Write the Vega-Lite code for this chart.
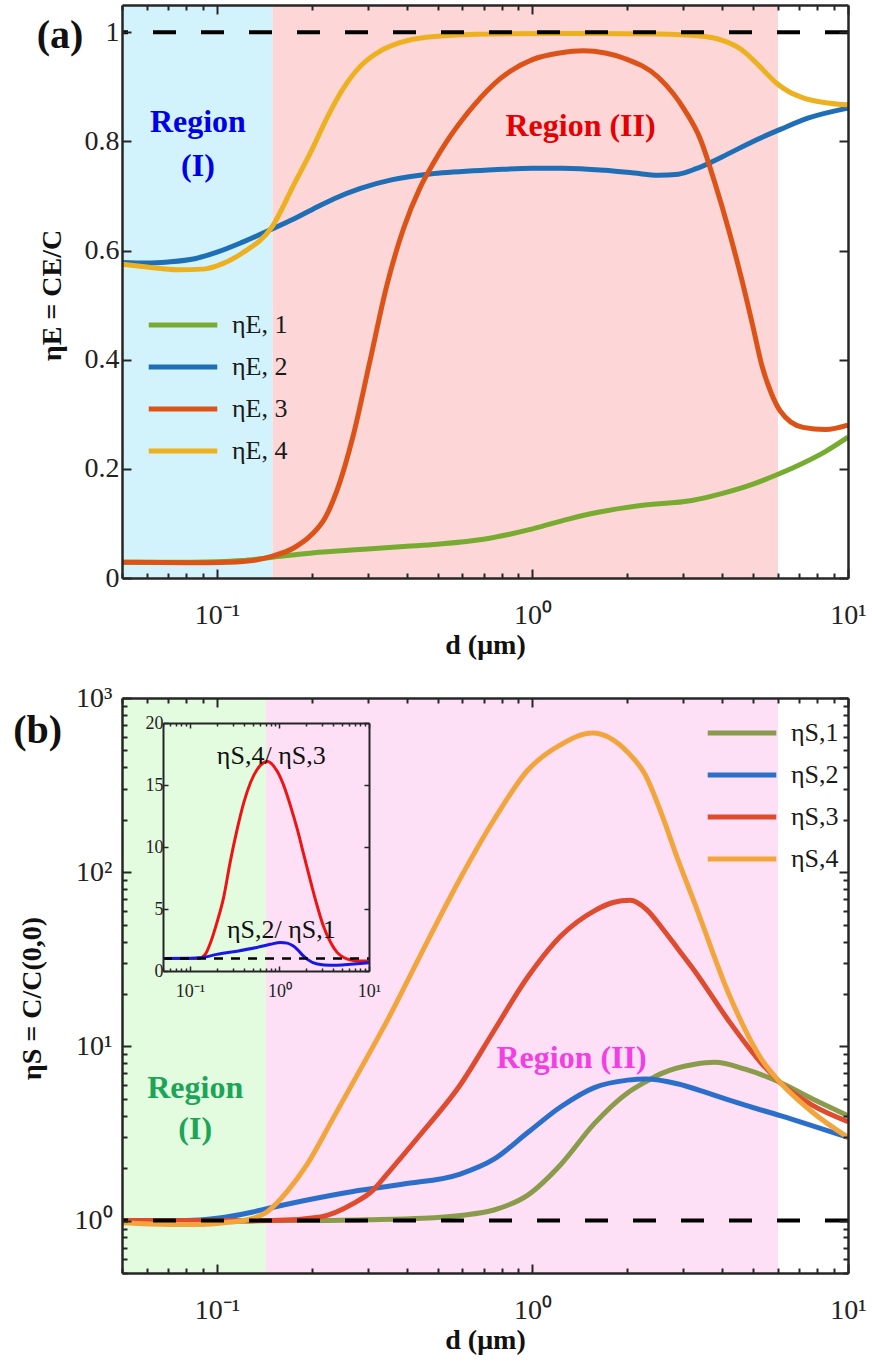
{
  "$schema": "https://vega.github.io/schema/vega-lite/v6.json",
  "autosize": {"type": "none"},
  "padding": {"left": 122, "top": 5, "right": 750, "bottom": 1357},
  "background": "white",
  "spacing": 120,
  "bounds": "flush",
  "config": {
    "view": {"stroke": null},
    "axis": {"grid": false, "labelFont": "Liberation Serif", "titleFont": "Liberation Serif", "labelColor": "#222222", "titleColor": "#111111", "domainColor": "#262626", "domainWidth": 2.5, "tickColor": "#262626", "tickWidth": 2, "zindex": 1, "labelOverlap": false, "labelFlush": false},
    "legend": {"labelFont": "Liberation Serif", "labelFontSize": 26, "labelColor": "#1a1a1a", "symbolType": "stroke", "symbolSize": 4700, "symbolStrokeWidth": 5, "clipHeight": 24, "rowPadding": 16, "labelOffset": 12, "padding": 0, "title": null},
    "text": {"font": "Liberation Serif"}
  },
  "vconcat": [
    {
      "width": 726,
      "height": 573,
      "layer": [
        {
          "data": {"values": [{"from": 0.05, "to": 0.15, "region": "I"}, {"from": 0.15, "to": 6, "region": "II"}]},
          "mark": {"type": "rect"},
          "encoding": {
            "x": {"field": "from", "type": "quantitative", "scale": {"type": "log", "domain": [0.05, 10]},
              "axis": {"orient": "bottom", "zindex": 1, "values": [0.1, 1, 10],
                "labelExpr": "datum.value == 0.1 ? '10⁻¹' : datum.value == 1 ? '10⁰' : '10¹'",
                "tickSize": -9, "labelFontSize": 28, "labelPadding": 32, "title": "d (μm)", "titleFontSize": 28, "titleFontWeight": "bold", "titleY": 67, "titleBaseline": "middle"}},
            "x2": {"field": "to"},
            "color": {"field": "region", "type": "nominal", "scale": {"domain": ["I", "II"], "range": ["#d3f3fc", "#fdd6d8"]}, "legend": null}
          }
        },
        {
          "data": {"values": [
            {"d":0.05,"eta":0.029,"series":"ηE, 1"},{"d":0.07,"eta":0.029,"series":"ηE, 1"},{"d":0.1,"eta":0.03,"series":"ηE, 1"},{"d":0.12,"eta":0.032,"series":"ηE, 1"},{"d":0.15,"eta":0.038,"series":"ηE, 1"},{"d":0.2,"eta":0.046,"series":"ηE, 1"},{"d":0.3,"eta":0.053,"series":"ηE, 1"},{"d":0.4,"eta":0.058,"series":"ηE, 1"},{"d":0.5,"eta":0.062,"series":"ηE, 1"},{"d":0.7,"eta":0.071,"series":"ηE, 1"},{"d":1.0,"eta":0.09,"series":"ηE, 1"},{"d":1.3,"eta":0.108,"series":"ηE, 1"},{"d":1.6,"eta":0.12,"series":"ηE, 1"},{"d":2.2,"eta":0.133,"series":"ηE, 1"},{"d":3.2,"eta":0.142,"series":"ηE, 1"},{"d":4.0,"eta":0.155,"series":"ηE, 1"},{"d":5.0,"eta":0.172,"series":"ηE, 1"},{"d":6.0,"eta":0.19,"series":"ηE, 1"},{"d":7.0,"eta":0.207,"series":"ηE, 1"},{"d":8.5,"eta":0.232,"series":"ηE, 1"},{"d":10,"eta":0.258,"series":"ηE, 1"},
            {"d":0.05,"eta":0.578,"series":"ηE, 2"},{"d":0.06,"eta":0.577,"series":"ηE, 2"},{"d":0.07,"eta":0.579,"series":"ηE, 2"},{"d":0.085,"eta":0.585,"series":"ηE, 2"},{"d":0.1,"eta":0.597,"series":"ηE, 2"},{"d":0.12,"eta":0.615,"series":"ηE, 2"},{"d":0.15,"eta":0.64,"series":"ηE, 2"},{"d":0.175,"eta":0.658,"series":"ηE, 2"},{"d":0.2,"eta":0.675,"series":"ηE, 2"},{"d":0.235,"eta":0.695,"series":"ηE, 2"},{"d":0.285,"eta":0.714,"series":"ηE, 2"},{"d":0.36,"eta":0.73,"series":"ηE, 2"},{"d":0.485,"eta":0.741,"series":"ηE, 2"},{"d":0.75,"eta":0.748,"series":"ηE, 2"},{"d":1.0,"eta":0.751,"series":"ηE, 2"},{"d":1.25,"eta":0.751,"series":"ηE, 2"},{"d":1.7,"eta":0.747,"series":"ηE, 2"},{"d":2.1,"eta":0.742,"series":"ηE, 2"},{"d":2.5,"eta":0.738,"series":"ηE, 2"},{"d":2.9,"eta":0.74,"series":"ηE, 2"},{"d":3.3,"eta":0.75,"series":"ηE, 2"},{"d":4.0,"eta":0.772,"series":"ηE, 2"},{"d":5.0,"eta":0.8,"series":"ηE, 2"},{"d":6.1,"eta":0.822,"series":"ηE, 2"},{"d":7.5,"eta":0.843,"series":"ηE, 2"},{"d":10,"eta":0.861,"series":"ηE, 2"},
            {"d":0.05,"eta":0.029,"series":"ηE, 3"},{"d":0.08,"eta":0.028,"series":"ηE, 3"},{"d":0.11,"eta":0.029,"series":"ηE, 3"},{"d":0.13,"eta":0.032,"series":"ηE, 3"},{"d":0.15,"eta":0.04,"series":"ηE, 3"},{"d":0.175,"eta":0.055,"series":"ηE, 3"},{"d":0.2,"eta":0.08,"series":"ηE, 3"},{"d":0.22,"eta":0.11,"series":"ηE, 3"},{"d":0.24,"eta":0.16,"series":"ηE, 3"},{"d":0.27,"eta":0.26,"series":"ηE, 3"},{"d":0.306,"eta":0.4,"series":"ηE, 3"},{"d":0.345,"eta":0.535,"series":"ηE, 3"},{"d":0.39,"eta":0.64,"series":"ηE, 3"},{"d":0.44,"eta":0.715,"series":"ηE, 3"},{"d":0.485,"eta":0.76,"series":"ηE, 3"},{"d":0.535,"eta":0.8,"series":"ηE, 3"},{"d":0.6,"eta":0.84,"series":"ηE, 3"},{"d":0.65,"eta":0.865,"series":"ηE, 3"},{"d":0.79,"eta":0.915,"series":"ηE, 3"},{"d":1.0,"eta":0.95,"series":"ηE, 3"},{"d":1.22,"eta":0.962,"series":"ηE, 3"},{"d":1.45,"eta":0.966,"series":"ηE, 3"},{"d":1.7,"eta":0.962,"series":"ηE, 3"},{"d":1.96,"eta":0.952,"series":"ηE, 3"},{"d":2.5,"eta":0.918,"series":"ηE, 3"},{"d":3.04,"eta":0.857,"series":"ηE, 3"},{"d":3.4,"eta":0.805,"series":"ηE, 3"},{"d":3.78,"eta":0.725,"series":"ηE, 3"},{"d":4.2,"eta":0.635,"series":"ηE, 3"},{"d":4.6,"eta":0.548,"series":"ηE, 3"},{"d":5.0,"eta":0.46,"series":"ηE, 3"},{"d":5.33,"eta":0.39,"series":"ηE, 3"},{"d":5.7,"eta":0.34,"series":"ηE, 3"},{"d":6.1,"eta":0.306,"series":"ηE, 3"},{"d":7.2,"eta":0.276,"series":"ηE, 3"},{"d":8.5,"eta":0.272,"series":"ηE, 3"},{"d":10,"eta":0.28,"series":"ηE, 3"},
            {"d":0.05,"eta":0.575,"series":"ηE, 4"},{"d":0.06,"eta":0.57,"series":"ηE, 4"},{"d":0.075,"eta":0.565,"series":"ηE, 4"},{"d":0.09,"eta":0.566,"series":"ηE, 4"},{"d":0.1,"eta":0.572,"series":"ηE, 4"},{"d":0.12,"eta":0.595,"series":"ηE, 4"},{"d":0.15,"eta":0.645,"series":"ηE, 4"},{"d":0.175,"eta":0.72,"series":"ηE, 4"},{"d":0.2,"eta":0.785,"series":"ηE, 4"},{"d":0.224,"eta":0.845,"series":"ηE, 4"},{"d":0.25,"eta":0.895,"series":"ηE, 4"},{"d":0.285,"eta":0.938,"series":"ηE, 4"},{"d":0.33,"eta":0.966,"series":"ηE, 4"},{"d":0.38,"eta":0.981,"series":"ηE, 4"},{"d":0.46,"eta":0.991,"series":"ηE, 4"},{"d":0.75,"eta":0.997,"series":"ηE, 4"},{"d":1.5,"eta":0.998,"series":"ηE, 4"},{"d":2.5,"eta":0.997,"series":"ηE, 4"},{"d":3.4,"eta":0.993,"series":"ηE, 4"},{"d":4.0,"eta":0.985,"series":"ηE, 4"},{"d":4.6,"eta":0.968,"series":"ηE, 4"},{"d":5.3,"eta":0.935,"series":"ηE, 4"},{"d":5.9,"eta":0.908,"series":"ηE, 4"},{"d":6.5,"eta":0.891,"series":"ηE, 4"},{"d":7.2,"eta":0.88,"series":"ηE, 4"},{"d":8.5,"eta":0.871,"series":"ηE, 4"},{"d":10,"eta":0.867,"series":"ηE, 4"}
          ]},
          "mark": {"type": "line", "strokeWidth": 5, "interpolate": "monotone"},
          "encoding": {
            "x": {"field": "d", "type": "quantitative", "scale": {"type": "log", "domain": [0.05, 10]},
              "axis": {"orient": "top", "zindex": 1, "values": [0.1, 1, 10], "labels": false, "tickSize": -9, "title": null}},
            "y": {"field": "eta", "type": "quantitative", "scale": {"domain": [0, 1.05]},
              "axis": {"orient": "left", "zindex": 1, "values": [0, 0.2, 0.4, 0.6, 0.8, 1], "format": ".1~f", "tickSize": -9, "labelFontSize": 28, "labelPadding": 12,
                "title": "ηE = CE/C", "titleFontSize": 28, "titleFontWeight": "bold", "titleX": -62, "titleY": 290, "titleBaseline": "alphabetic"}},
            "color": {"field": "series", "type": "nominal", "scale": {"domain": ["ηE, 1", "ηE, 2", "ηE, 3", "ηE, 4"], "range": ["#77ac30", "#1f6fb6", "#dc5318", "#edb120"]},
              "legend": {"orient": "none", "legendX": 24, "legendY": 308}}
          }
        },
        {
          "data": {"values": [{"ref": 1}]},
          "mark": {"type": "rule", "strokeDash": [23, 25], "strokeWidth": 4, "color": "#000000"},
          "encoding": {
            "y": {"field": "ref", "type": "quantitative", "scale": {"domain": [0, 1.05]},
              "axis": {"orient": "right", "zindex": 1, "values": [0, 0.2, 0.4, 0.6, 0.8, 1], "labels": false, "tickSize": -9, "title": null}}
          }
        },
        {
          "data": {"values": [{"d": 0.087, "eta": 0.835, "label": "Region\n(I)"}]},
          "mark": {"type": "text", "fontSize": 32, "fontWeight": "bold", "color": "#0000e6", "lineHeight": 44, "lineBreak": "\n", "baseline": "middle"},
          "encoding": {
            "x": {"field": "d", "type": "quantitative", "scale": {"type": "log", "domain": [0.05, 10]},
              "axis": {"orient": "bottom", "zindex": 1, "values": [0.05,0.06,0.07,0.08,0.09,0.2,0.3,0.4,0.5,0.6,0.7,0.8,0.9,2,3,4,5,6,7,8,9], "labels": false, "domain": false, "tickSize": -5, "title": null}},
            "y": {"field": "eta", "type": "quantitative", "scale": {"domain": [0, 1.05]}, "axis": null},
            "text": {"field": "label"}
          }
        },
        {
          "data": {"values": [{"d": 1.42, "eta": 0.828, "label": "Region (II)"}]},
          "mark": {"type": "text", "fontSize": 32, "fontWeight": "bold", "color": "#e60000", "baseline": "middle"},
          "encoding": {
            "x": {"field": "d", "type": "quantitative", "scale": {"type": "log", "domain": [0.05, 10]},
              "axis": {"orient": "top", "zindex": 1, "values": [0.05,0.06,0.07,0.08,0.09,0.2,0.3,0.4,0.5,0.6,0.7,0.8,0.9,2,3,4,5,6,7,8,9], "labels": false, "domain": false, "tickSize": -5, "title": null}},
            "y": {"field": "eta", "type": "quantitative", "scale": {"domain": [0, 1.05]}, "axis": null},
            "text": {"field": "label"}
          }
        },
        {
          "data": {"values": [{"d": 0.0318, "eta": 0.993, "label": "(a)"}]},
          "mark": {"type": "text", "fontSize": 40, "fontWeight": "bold", "color": "#111111", "baseline": "middle"},
          "encoding": {
            "x": {"field": "d", "type": "quantitative", "scale": {"type": "log", "domain": [0.05, 10]}, "axis": null},
            "y": {"field": "eta", "type": "quantitative", "scale": {"domain": [0, 1.05]}, "axis": null},
            "text": {"field": "label"}
          }
        }
      ],
      "resolve": {"scale": {"color": "independent"}, "axis": {"x": "independent", "y": "independent"}}
    },
    {
      "width": 726,
      "height": 575,
      "layer": [
        {
          "data": {"values": [{"from": 0.05, "to": 0.143, "region": "I"}, {"from": 0.143, "to": 6, "region": "II"}]},
          "mark": {"type": "rect"},
          "encoding": {
            "x": {"field": "from", "type": "quantitative", "scale": {"type": "log", "domain": [0.05, 10]},
              "axis": {"orient": "bottom", "zindex": 1, "values": [0.1, 1, 10],
                "labelExpr": "datum.value == 0.1 ? '10⁻¹' : datum.value == 1 ? '10⁰' : '10¹'",
                "tickSize": -9, "labelFontSize": 28, "labelPadding": 32, "title": "d (μm)", "titleFontSize": 28, "titleFontWeight": "bold", "titleY": 67, "titleBaseline": "middle"}},
            "x2": {"field": "to"},
            "color": {"field": "region", "type": "nominal", "scale": {"domain": ["I", "II"], "range": ["#e3fbdf", "#fde0f5"]}, "legend": null}
          }
        },
        {
          "data": {"values": [
            {"d":0.05,"eta":1.0,"series":"ηS,1"},{"d":0.07,"eta":0.98,"series":"ηS,1"},{"d":0.1,"eta":0.98,"series":"ηS,1"},{"d":0.15,"eta":1.0,"series":"ηS,1"},{"d":0.2,"eta":1.0,"series":"ηS,1"},{"d":0.3,"eta":1.01,"series":"ηS,1"},{"d":0.45,"eta":1.03,"series":"ηS,1"},{"d":0.59,"eta":1.07,"series":"ηS,1"},{"d":0.755,"eta":1.15,"series":"ηS,1"},{"d":0.966,"eta":1.4,"series":"ηS,1"},{"d":1.23,"eta":2.1,"series":"ηS,1"},{"d":1.57,"eta":3.6,"series":"ηS,1"},{"d":2.0,"eta":5.4,"series":"ηS,1"},{"d":2.3,"eta":6.3,"series":"ηS,1"},{"d":2.57,"eta":7.0,"series":"ηS,1"},{"d":3.27,"eta":7.9,"series":"ηS,1"},{"d":3.78,"eta":8.1,"series":"ηS,1"},{"d":4.72,"eta":7.4,"series":"ηS,1"},{"d":6.1,"eta":6.2,"series":"ηS,1"},{"d":7.7,"eta":5.0,"series":"ηS,1"},{"d":10,"eta":4.0,"series":"ηS,1"},
            {"d":0.05,"eta":1.0,"series":"ηS,2"},{"d":0.08,"eta":1.0,"series":"ηS,2"},{"d":0.1,"eta":1.03,"series":"ηS,2"},{"d":0.13,"eta":1.12,"series":"ηS,2"},{"d":0.147,"eta":1.18,"series":"ηS,2"},{"d":0.188,"eta":1.3,"series":"ηS,2"},{"d":0.27,"eta":1.47,"series":"ηS,2"},{"d":0.39,"eta":1.62,"series":"ηS,2"},{"d":0.59,"eta":1.85,"series":"ηS,2"},{"d":0.755,"eta":2.25,"series":"ηS,2"},{"d":0.966,"eta":3.2,"series":"ηS,2"},{"d":1.23,"eta":4.5,"series":"ηS,2"},{"d":1.57,"eta":5.8,"series":"ηS,2"},{"d":2.0,"eta":6.4,"series":"ηS,2"},{"d":2.3,"eta":6.5,"series":"ηS,2"},{"d":2.88,"eta":6.1,"series":"ηS,2"},{"d":3.7,"eta":5.3,"series":"ηS,2"},{"d":4.72,"eta":4.6,"series":"ηS,2"},{"d":6.1,"eta":4.0,"series":"ηS,2"},{"d":10,"eta":3.0,"series":"ηS,2"},
            {"d":0.05,"eta":1.0,"series":"ηS,3"},{"d":0.1,"eta":1.0,"series":"ηS,3"},{"d":0.15,"eta":1.0,"series":"ηS,3"},{"d":0.213,"eta":1.05,"series":"ηS,3"},{"d":0.27,"eta":1.25,"series":"ηS,3"},{"d":0.313,"eta":1.5,"series":"ηS,3"},{"d":0.346,"eta":1.85,"series":"ηS,3"},{"d":0.44,"eta":3.1,"series":"ηS,3"},{"d":0.59,"eta":6.0,"series":"ηS,3"},{"d":0.755,"eta":12.3,"series":"ηS,3"},{"d":0.966,"eta":25,"series":"ηS,3"},{"d":1.23,"eta":43,"series":"ηS,3"},{"d":1.57,"eta":60,"series":"ηS,3"},{"d":1.8,"eta":67,"series":"ηS,3"},{"d":2.04,"eta":69,"series":"ηS,3"},{"d":2.3,"eta":61,"series":"ηS,3"},{"d":2.57,"eta":48,"series":"ηS,3"},{"d":2.9,"eta":36,"series":"ηS,3"},{"d":3.27,"eta":27,"series":"ηS,3"},{"d":4.19,"eta":14,"series":"ηS,3"},{"d":5.35,"eta":7.9,"series":"ηS,3"},{"d":6.1,"eta":6.2,"series":"ηS,3"},{"d":7.7,"eta":4.6,"series":"ηS,3"},{"d":10,"eta":3.7,"series":"ηS,3"},
            {"d":0.05,"eta":0.97,"series":"ηS,4"},{"d":0.07,"eta":0.95,"series":"ηS,4"},{"d":0.09,"eta":0.95,"series":"ηS,4"},{"d":0.11,"eta":0.98,"series":"ηS,4"},{"d":0.121,"eta":1.0,"series":"ηS,4"},{"d":0.144,"eta":1.12,"series":"ηS,4"},{"d":0.167,"eta":1.47,"series":"ηS,4"},{"d":0.193,"eta":2.1,"series":"ηS,4"},{"d":0.234,"eta":3.9,"series":"ηS,4"},{"d":0.285,"eta":7.4,"series":"ηS,4"},{"d":0.346,"eta":14,"series":"ηS,4"},{"d":0.44,"eta":33,"series":"ηS,4"},{"d":0.59,"eta":92,"series":"ηS,4"},{"d":0.755,"eta":200,"series":"ηS,4"},{"d":0.966,"eta":385,"series":"ηS,4"},{"d":1.23,"eta":540,"series":"ηS,4"},{"d":1.55,"eta":630,"series":"ηS,4"},{"d":2.0,"eta":490,"series":"ηS,4"},{"d":2.27,"eta":366,"series":"ηS,4"},{"d":2.57,"eta":214,"series":"ηS,4"},{"d":2.88,"eta":120,"series":"ηS,4"},{"d":3.27,"eta":66,"series":"ηS,4"},{"d":4.19,"eta":20,"series":"ηS,4"},{"d":5.35,"eta":8.3,"series":"ηS,4"},{"d":6.1,"eta":6.2,"series":"ηS,4"},{"d":7.7,"eta":4.2,"series":"ηS,4"},{"d":10,"eta":3.0,"series":"ηS,4"}
          ]},
          "mark": {"type": "line", "strokeWidth": 5, "interpolate": "monotone"},
          "encoding": {
            "x": {"field": "d", "type": "quantitative", "scale": {"type": "log", "domain": [0.05, 10]},
              "axis": {"orient": "top", "zindex": 1, "values": [0.1, 1, 10], "labels": false, "tickSize": -9, "title": null}},
            "y": {"field": "eta", "type": "quantitative", "scale": {"type": "log", "domain": [0.5, 1000]},
              "axis": {"orient": "left", "zindex": 1, "values": [1, 10, 100, 1000],
                "labelExpr": "datum.value == 1 ? '10⁰' : datum.value == 10 ? '10¹' : datum.value == 100 ? '10²' : '10³'",
                "tickSize": -9, "labelFontSize": 28, "labelPadding": 19,
                "title": "ηS = C/C(0,0)", "titleFontSize": 28, "titleFontWeight": "bold", "titleX": -82, "titleY": 300, "titleBaseline": "alphabetic"}},
            "color": {"field": "series", "type": "nominal", "scale": {"domain": ["ηS,1", "ηS,2", "ηS,3", "ηS,4"], "range": ["#8b9b4c", "#2c6fcb", "#de4b2f", "#f2a53c"]},
              "legend": {"orient": "none", "legendX": 583, "legendY": 23}}
          }
        },
        {
          "data": {"values": [{"ref": 1}]},
          "mark": {"type": "rule", "strokeDash": [23, 25], "strokeWidth": 4, "color": "#000000"},
          "encoding": {
            "y": {"field": "ref", "type": "quantitative", "scale": {"type": "log", "domain": [0.5, 1000]},
              "axis": {"orient": "right", "zindex": 1, "values": [1, 10, 100, 1000], "labels": false, "tickSize": -9, "title": null}}
          }
        },
        {
          "data": {"values": [{"d": 0.0853, "eta": 5.74, "label": "Region\n(I)"}]},
          "mark": {"type": "text", "fontSize": 32, "fontWeight": "bold", "color": "#1ca558", "lineHeight": 41, "lineBreak": "\n", "baseline": "middle"},
          "encoding": {
            "x": {"field": "d", "type": "quantitative", "scale": {"type": "log", "domain": [0.05, 10]},
              "axis": {"orient": "bottom", "zindex": 1, "values": [0.05,0.06,0.07,0.08,0.09,0.2,0.3,0.4,0.5,0.6,0.7,0.8,0.9,2,3,4,5,6,7,8,9], "labels": false, "domain": false, "tickSize": -5, "title": null}},
            "y": {"field": "eta", "type": "quantitative", "scale": {"type": "log", "domain": [0.5, 1000]},
              "axis": {"orient": "left", "zindex": 1, "values": [0.5,0.6,0.7,0.8,0.9,2,3,4,5,6,7,8,9,20,30,40,50,60,70,80,90,200,300,400,500,600,700,800,900], "labels": false, "domain": false, "tickSize": -5, "title": null}},
            "text": {"field": "label"}
          }
        },
        {
          "data": {"values": [{"d": 1.33, "eta": 8.6, "label": "Region (II)"}]},
          "mark": {"type": "text", "fontSize": 32, "fontWeight": "bold", "color": "#f23ee2", "baseline": "middle"},
          "encoding": {
            "x": {"field": "d", "type": "quantitative", "scale": {"type": "log", "domain": [0.05, 10]},
              "axis": {"orient": "top", "zindex": 1, "values": [0.05,0.06,0.07,0.08,0.09,0.2,0.3,0.4,0.5,0.6,0.7,0.8,0.9,2,3,4,5,6,7,8,9], "labels": false, "domain": false, "tickSize": -5, "title": null}},
            "y": {"field": "eta", "type": "quantitative", "scale": {"type": "log", "domain": [0.5, 1000]},
              "axis": {"orient": "right", "zindex": 1, "values": [0.5,0.6,0.7,0.8,0.9,2,3,4,5,6,7,8,9,20,30,40,50,60,70,80,90,200,300,400,500,600,700,800,900], "labels": false, "domain": false, "tickSize": -5, "title": null}},
            "text": {"field": "label"}
          }
        },
        {
          "data": {"values": [{"d": 0.027, "eta": 646, "label": "(b)"}]},
          "mark": {"type": "text", "fontSize": 40, "fontWeight": "bold", "color": "#111111", "baseline": "middle"},
          "encoding": {
            "x": {"field": "d", "type": "quantitative", "scale": {"type": "log", "domain": [0.05, 10]}, "axis": null},
            "y": {"field": "eta", "type": "quantitative", "scale": {"type": "log", "domain": [0.5, 1000]}, "axis": null},
            "text": {"field": "label"}
          }
        },
        {
          "data": {"values": [
            {"d":0.05,"r":1.0},{"d":0.1,"r":1.0},{"d":0.131,"r":1.05},{"d":0.15,"r":1.4},{"d":0.17,"r":2.3},{"d":0.2,"r":3.9},{"d":0.239,"r":6.0},{"d":0.28,"r":8.7},{"d":0.336,"r":11.4},{"d":0.4,"r":13.6},{"d":0.475,"r":15.2},{"d":0.615,"r":16.6},{"d":0.73,"r":16.9},{"d":0.944,"r":16.1},{"d":1.15,"r":14.7},{"d":1.33,"r":13.3},{"d":1.6,"r":11.3},{"d":1.88,"r":9.3},{"d":2.25,"r":7.1},{"d":2.65,"r":5.2},{"d":3.1,"r":3.6},{"d":3.73,"r":2.3},{"d":4.4,"r":1.5},{"d":5.27,"r":1.07},{"d":6.3,"r":0.88},{"d":7.4,"r":0.8},{"d":10,"r":0.8}
          ]},
          "mark": {"type": "line", "strokeWidth": 3, "interpolate": "monotone", "color": "#ee1414"},
          "encoding": {
            "x": {"field": "d", "type": "quantitative", "scale": {"type": "log", "domain": [0.05, 10], "range": [41, 247]},
              "axis": {"orient": "bottom", "zindex": 1, "offset": -302, "values": [0.1, 1, 10],
                "labelExpr": "datum.value == 0.1 ? '10⁻¹' : datum.value == 1 ? '10⁰' : '10¹'",
                "tickSize": -5, "labelFontSize": 18, "labelPadding": 16, "domainWidth": 2, "tickWidth": 1.5, "title": null}},
            "y": {"field": "r", "type": "quantitative", "scale": {"domain": [0, 20], "range": [273, 25]},
              "axis": {"orient": "left", "zindex": 1, "offset": -41, "values": [0, 5, 10, 15, 20], "tickSize": -5, "labelFontSize": 18, "labelPadding": 5, "domainWidth": 2, "tickWidth": 1.5, "title": null}}
          }
        },
        {
          "data": {"values": [
            {"d":0.05,"r":1.0},{"d":0.1,"r":1.02},{"d":0.131,"r":1.06},{"d":0.2,"r":1.34},{"d":0.336,"r":1.6},{"d":0.56,"r":1.9},{"d":0.79,"r":2.15},{"d":1.03,"r":2.3},{"d":1.22,"r":2.25},{"d":1.4,"r":2.05},{"d":1.58,"r":1.75},{"d":1.8,"r":1.3},{"d":2.05,"r":0.94},{"d":2.65,"r":0.56},{"d":3.73,"r":0.46},{"d":5.0,"r":0.48},{"d":6.25,"r":0.54},{"d":10,"r":0.67}
          ]},
          "mark": {"type": "line", "strokeWidth": 3, "interpolate": "monotone", "color": "#1818e6"},
          "encoding": {
            "x": {"field": "d", "type": "quantitative", "scale": {"type": "log", "domain": [0.05, 10], "range": [41, 247]},
              "axis": {"orient": "bottom", "zindex": 1, "offset": -302, "values": [0.05,0.06,0.07,0.08,0.09,0.2,0.3,0.4,0.5,0.6,0.7,0.8,0.9,2,3,4,5,6,7,8,9], "labels": false, "domain": false, "tickSize": -3, "tickWidth": 1.5, "title": null}},
            "y": {"field": "r", "type": "quantitative", "scale": {"domain": [0, 20], "range": [273, 25]}, "axis": null}
          }
        },
        {
          "data": {"values": [{"from": 0.05, "to": 10, "ref": 1}]},
          "mark": {"type": "rule", "strokeDash": [9, 8], "strokeWidth": 2.5, "color": "#000000"},
          "encoding": {
            "x": {"field": "from", "type": "quantitative", "scale": {"type": "log", "domain": [0.05, 10], "range": [41, 247]}, "axis": null},
            "x2": {"field": "to"},
            "y": {"field": "ref", "type": "quantitative", "scale": {"domain": [0, 20], "range": [273, 25]},
              "axis": {"orient": "right", "zindex": 1, "offset": -479, "values": [0, 5, 10, 15, 20], "tickSize": -5, "labels": false, "domainWidth": 2, "tickWidth": 1.5, "title": null}}
          }
        },
        {
          "data": {"values": [{"d": 0.81, "r": 17.3, "label": "ηS,4/ ηS,3"}]},
          "mark": {"type": "text", "fontSize": 26, "color": "#111111", "baseline": "middle"},
          "encoding": {
            "x": {"field": "d", "type": "quantitative", "scale": {"type": "log", "domain": [0.05, 10], "range": [41, 247]},
              "axis": {"orient": "top", "zindex": 1, "offset": -25, "values": [0.1, 1, 10], "labels": false, "tickSize": -5, "domainWidth": 2, "tickWidth": 1.5, "title": null}},
            "y": {"field": "r", "type": "quantitative", "scale": {"domain": [0, 20], "range": [273, 25]}, "axis": null},
            "text": {"field": "label"}
          }
        },
        {
          "data": {"values": [{"d": 1.05, "r": 3.3, "label": "ηS,2/ ηS,1"}]},
          "mark": {"type": "text", "fontSize": 26, "color": "#111111", "baseline": "middle"},
          "encoding": {
            "x": {"field": "d", "type": "quantitative", "scale": {"type": "log", "domain": [0.05, 10], "range": [41, 247]},
              "axis": {"orient": "top", "zindex": 1, "offset": -25, "values": [0.05,0.06,0.07,0.08,0.09,0.2,0.3,0.4,0.5,0.6,0.7,0.8,0.9,2,3,4,5,6,7,8,9], "labels": false, "domain": false, "tickSize": -3, "tickWidth": 1.5, "title": null}},
            "y": {"field": "r", "type": "quantitative", "scale": {"domain": [0, 20], "range": [273, 25]}, "axis": null},
            "text": {"field": "label"}
          }
        }
      ],
      "resolve": {"scale": {"x": "independent", "y": "independent", "color": "independent"}, "axis": {"x": "independent", "y": "independent"}}
    }
  ]
}
